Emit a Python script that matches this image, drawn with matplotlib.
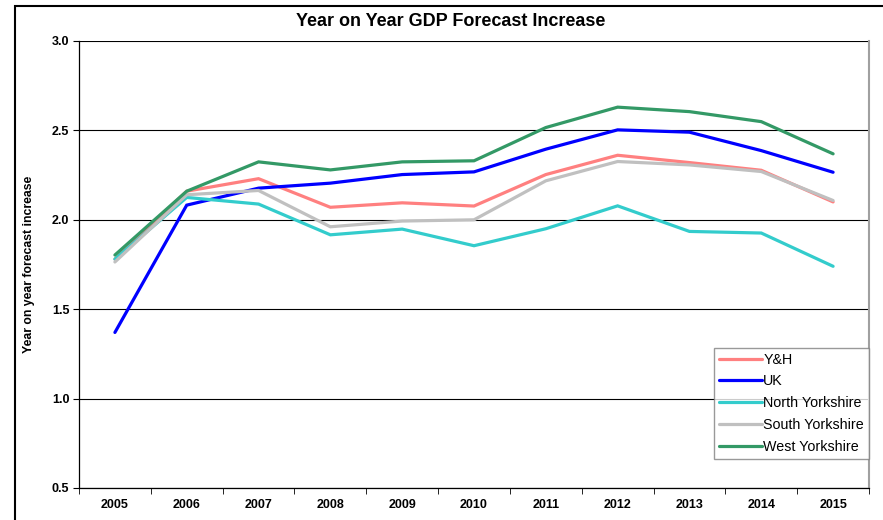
import matplotlib
matplotlib.use("Agg")
import matplotlib.pyplot as plt
from matplotlib.patches import Rectangle

plt.rcParams['font.family'] = ['Liberation Sans', 'DejaVu Sans']

years = ['2005', '2006', '2007', '2008', '2009', '2010', '2011', '2012', '2013', '2014', '2015']
yh = [1.78, 2.16, 2.23, 2.07, 2.095, 2.077, 2.253, 2.361, 2.32, 2.277, 2.10]
uk = [1.37, 2.082, 2.177, 2.205, 2.253, 2.268, 2.395, 2.503, 2.49, 2.387, 2.266]
north = [1.78, 2.125, 2.088, 1.916, 1.948, 1.855, 1.95, 2.078, 1.935, 1.926, 1.74]
south = [1.764, 2.14, 2.164, 1.961, 1.993, 2.0, 2.218, 2.326, 2.307, 2.27, 2.108]
west = [1.803, 2.16, 2.324, 2.279, 2.324, 2.33, 2.516, 2.63, 2.605, 2.549, 2.369]

series = [
    ('Y&H', yh, '#FF8080'),
    ('UK', uk, '#0000FF'),
    ('North Yorkshire', north, '#33CCCC'),
    ('South Yorkshire', south, '#C0C0C0'),
    ('West Yorkshire', west, '#339966'),
]

fig = plt.figure(figsize=(8.83, 5.2), dpi=100)
ax = fig.add_axes([79/883, 1-488/520, (869-79)/883, (488-41)/520])

x = list(range(len(years)))
for name, vals, col in series:
    ax.plot(x, vals, color=col, lw=2.3, label=name, solid_capstyle='round', solid_joinstyle='miter')

ax.set_xlim(-0.5, len(years) - 0.5)
ax.set_ylim(0.5, 3.0)
ax.set_yticks([0.5, 1.0, 1.5, 2.0, 2.5, 3.0])
ax.set_yticklabels(['0.5', '1.0', '1.5', '2.0', '2.5', '3.0'], fontweight='bold', fontsize=9)
ax.set_xticks(x)
ax.set_xticklabels(years, fontweight='bold', fontsize=9)
ax.tick_params(axis='x', length=0, pad=8)
ax.set_xticks([i - 0.5 for i in range(len(years) + 1)], minor=True)
ax.tick_params(axis='x', which='minor', length=4, direction='out', color='black')
ax.tick_params(axis='y', length=4, direction='out', color='black', pad=3)

ax.yaxis.grid(True, color='black', lw=0.8)
ax.set_axisbelow(True)
for s in ['left', 'bottom']:
    ax.spines[s].set_color('black')
    ax.spines[s].set_linewidth(0.9)
ax.spines['top'].set_visible(False)
ax.spines['right'].set_color('#A0A0A0')
ax.spines['right'].set_linewidth(1.5)

ax.set_ylabel('Year on year forecast increase', fontweight='bold', fontsize=8.8, labelpad=12)
fig.text(451/883, 1-21/520, 'Year on Year GDP Forecast Increase',
         ha='center', va='center', fontweight='bold', fontsize=13)

leg = ax.legend(loc='lower right', bbox_to_anchor=(1.0, (488-459)/447), frameon=True,
                fancybox=False, fontsize=10.3, handlelength=3.0, handletextpad=0.1,
                borderpad=0.35, labelspacing=0.55, borderaxespad=0.0)
leg.get_frame().set_edgecolor('#808080')
leg.get_frame().set_linewidth(1.0)

border = Rectangle((15/883, -0.1), 1.2, 1-6/520 + 0.1, transform=fig.transFigure,
                   fill=False, edgecolor='black', lw=1.5, clip_on=False)
fig.patches.append(border)

fig.savefig('out.png', dpi=100)
